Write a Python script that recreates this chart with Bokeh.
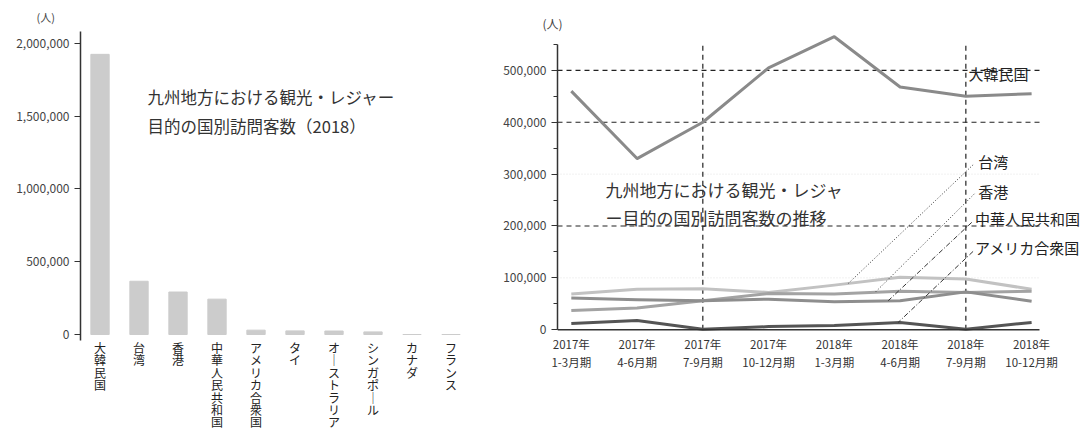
from bokeh.plotting import figure
from bokeh.layouts import row
from bokeh.models import (NumeralTickFormatter, Label, FixedTicker, SingleIntervalTicker,
                          Range1d, ColumnDataSource)
from bokeh.core.properties import value
from bokeh.embed import file_html
from bokeh.resources import INLINE

FONT = "Noto Sans CJK JP"

# ---------------- data: 2018 bar chart ----------------
countries = ["大韓民国", "台湾", "香港", "中華人民共和国", "アメリカ合衆国",
             "タイ", "オーストラリア", "シンガポール", "カナダ", "フランス"]
visitors_2018 = [1925000, 366000, 292000, 243000, 30000, 25000, 24000, 18000, 0, 0]
bar_title = ["九州地方における観光・レジャー", "目的の国別訪問客数（2018）"]

# ---------------- data: quarterly line chart ----------------
quarters = ["2017年\n1-3月期", "2017年\n4-6月期", "2017年\n7-9月期", "2017年\n10-12月期",
            "2018年\n1-3月期", "2018年\n4-6月期", "2018年\n7-9月期", "2018年\n10-12月期"]
korea = [460000, 330000, 400000, 505000, 565000, 468000, 450000, 455000]
taiwan = [69000, 78000, 79000, 72000, 86000, 101000, 98000, 78000]
hongkong = [37000, 42000, 56000, 70000, 69000, 74000, 72000, 74000]
china = [61000, 58000, 56000, 59000, 54000, 56000, 73000, 55000]
usa = [12000, 18000, 1000, 6000, 8000, 14000, 1000, 14000]
series_names = ["大韓民国", "台湾", "香港", "中華人民共和国", "アメリカ合衆国"]
line_title = ["九州地方における観光・レジャ", "ー目的の国別訪問客数の推移"]
ref_y = [200000, 400000, 500000]      # bold dashed reference levels
faint_y = [100000, 300000]            # faint dotted levels
ref_x = [2, 6]                        # bold dashed reference quarters

H = 434
TOP = 31

# ======================= left: bar chart =======================
bx = list(range(len(countries)))
p1 = figure(title="(人)", x_range=Range1d(-0.5, 9.5), y_range=Range1d(-687000, 2082000),
            width=490, height=H, output_backend="svg", toolbar_location=None,
            min_border_left=80, min_border_right=20, min_border_top=TOP, min_border_bottom=0)
p1.outline_line_color = None
p1.grid.visible = False
p1.title.align = "left"
p1.title.offset = -44
p1.title.standoff = 13
p1.title.text_font = FONT
p1.title.text_font_size = "11px"
p1.title.text_font_style = "normal"
p1.title.text_color = "#444444"

src1 = ColumnDataSource(dict(x=bx, top=visitors_2018,
                             label=["\n".join("｜" if ch == "ー" else ch for ch in c)
                                    for c in countries]))
p1.vbar(x="x", top="top", width=0.47, source=src1, color="#cccccc")
p1.text(x="x", y=-30000, text="label", source=src1, text_font=value(FONT),
        text_font_size="12px", text_color="#222222", text_align="center",
        text_baseline="top", text_line_height=0.73, level="overlay")

p1.yaxis.ticker = FixedTicker(ticks=[0, 500000, 1000000, 1500000, 2000000])
p1.yaxis.bounds = (-41000, 2082000)
p1.yaxis.formatter = NumeralTickFormatter(format="0,0")
p1.yaxis.minor_tick_line_color = None
p1.yaxis.axis_line_color = "#333333"
p1.yaxis.axis_line_width = 1.5
p1.yaxis.major_tick_line_color = "#333333"
p1.yaxis.major_tick_out = 6
p1.yaxis.major_tick_in = 0
p1.yaxis.major_label_text_font = FONT
p1.yaxis.major_label_text_font_size = "12px"
p1.yaxis.major_label_text_color = "#444444"
p1.xaxis.visible = False

for i, t in enumerate(bar_title):
    p1.add_layout(Label(x=1.22, y=1629000 - i * 199000, text=t, text_font=FONT,
                        text_font_size="16.5px", text_color="#333333",
                        text_baseline="middle"))

# ======================= right: line chart =======================
xs = list(range(len(quarters)))
x_axis_start, x_axis_end, y_axis_top = -0.21, 7.12, 550000
p2 = figure(title="(人)", x_range=Range1d(x_axis_start, 7.85), y_range=Range1d(-202000, 575000),
            width=599, height=H, output_backend="svg", toolbar_location=None,
            min_border_left=67, min_border_right=2, min_border_top=TOP, min_border_bottom=0)
p2.outline_line_color = None
p2.grid.visible = False
p2.title.align = "left"
p2.title.offset = -15
p2.title.standoff = 0
p2.title.text_font = FONT
p2.title.text_font_size = "12px"
p2.title.text_font_style = "normal"
p2.title.text_color = "#444444"

# reference lines
p2.segment(x0=[x_axis_start] * len(faint_y), y0=faint_y, x1=[x_axis_end] * len(faint_y), y1=faint_y,
           line_color="#e2e2e2", line_width=1, line_dash="1 2")
p2.segment(x0=[x_axis_start] * len(ref_y), y0=ref_y, x1=[x_axis_end] * len(ref_y), y1=ref_y,
           line_color="#222222", line_width=1.2, line_dash="5 4")
p2.segment(x0=ref_x, y0=[0] * len(ref_x), x1=ref_x, y1=[y_axis_top] * len(ref_x),
           line_color="#222222", line_width=1.2, line_dash="5 4")

colors = ["#8a8a8a", "#c2c2c2", "#a3a3a3", "#8e8e8e", "#555555"]
for ys, col in zip([korea, taiwan, hongkong, china, usa], colors):
    p2.line(xs, ys, line_color=col, line_width=3, line_join="round")

# x baseline and quarter labels
p2.segment(x0=[x_axis_start], y0=[0], x1=[x_axis_end], y1=[0],
           line_color="#333333", line_width=1.5)
src2 = ColumnDataSource(dict(x=xs, label=quarters))
p2.text(x="x", y=-12000, text="label", source=src2, text_font=value(FONT),
        text_font_size="11.5px", text_color="#333333", text_align="center",
        text_baseline="top", text_line_height=1.12, level="overlay")

p2.yaxis.ticker = SingleIntervalTicker(interval=100000, num_minor_ticks=2)
p2.yaxis.bounds = (0, y_axis_top)
p2.yaxis.formatter = NumeralTickFormatter(format="0,0")
p2.yaxis.axis_line_color = "#333333"
p2.yaxis.axis_line_width = 1.5
p2.yaxis.major_tick_line_color = "#333333"
p2.yaxis.major_tick_out = 6
p2.yaxis.major_tick_in = 0
p2.yaxis.minor_tick_line_color = "#333333"
p2.yaxis.minor_tick_out = 4
p2.yaxis.minor_tick_in = 0
p2.yaxis.major_label_text_font = FONT
p2.yaxis.major_label_text_font_size = "12px"
p2.yaxis.major_label_text_color = "#444444"
p2.xaxis.visible = False

for i, t in enumerate(line_title):
    p2.add_layout(Label(x=0.52, y=271000 - i * 54000, text=t, text_font=FONT,
                        text_font_size="17px", text_color="#333333",
                        text_baseline="middle"))

# series labels and leader lines
label_x = [6.04, 6.19, 6.19, 6.14, 6.14]
label_y = [494000, 325000, 267000, 215000, 158000]
for n, lx, ly in zip(series_names, label_x, label_y):
    p2.add_layout(Label(x=lx, y=ly, text=n, text_font=FONT, text_font_size="15px",
                        text_color="#222222", text_baseline="middle"))

leader_x0 = [6.11, 6.13, 6.09, 6.11]
leader_y0 = [318000, 262000, 207000, 151000]
leader_x1 = [4.21, 4.62, 4.82, 4.97]
leader_y1 = [89000, 72000, 56000, 14000]
p2.segment(x0=leader_x0[:2], y0=leader_y0[:2], x1=leader_x1[:2], y1=leader_y1[:2],
           line_color="#333333", line_width=1, line_dash="1 2")
p2.segment(x0=leader_x0[2:], y0=leader_y0[2:], x1=leader_x1[2:], y1=leader_y1[2:],
           line_color="#333333", line_width=1, line_dash="5 2 1 2")

layout = row(p1, p2)
open("out.html", "w").write(file_html(layout, INLINE))
